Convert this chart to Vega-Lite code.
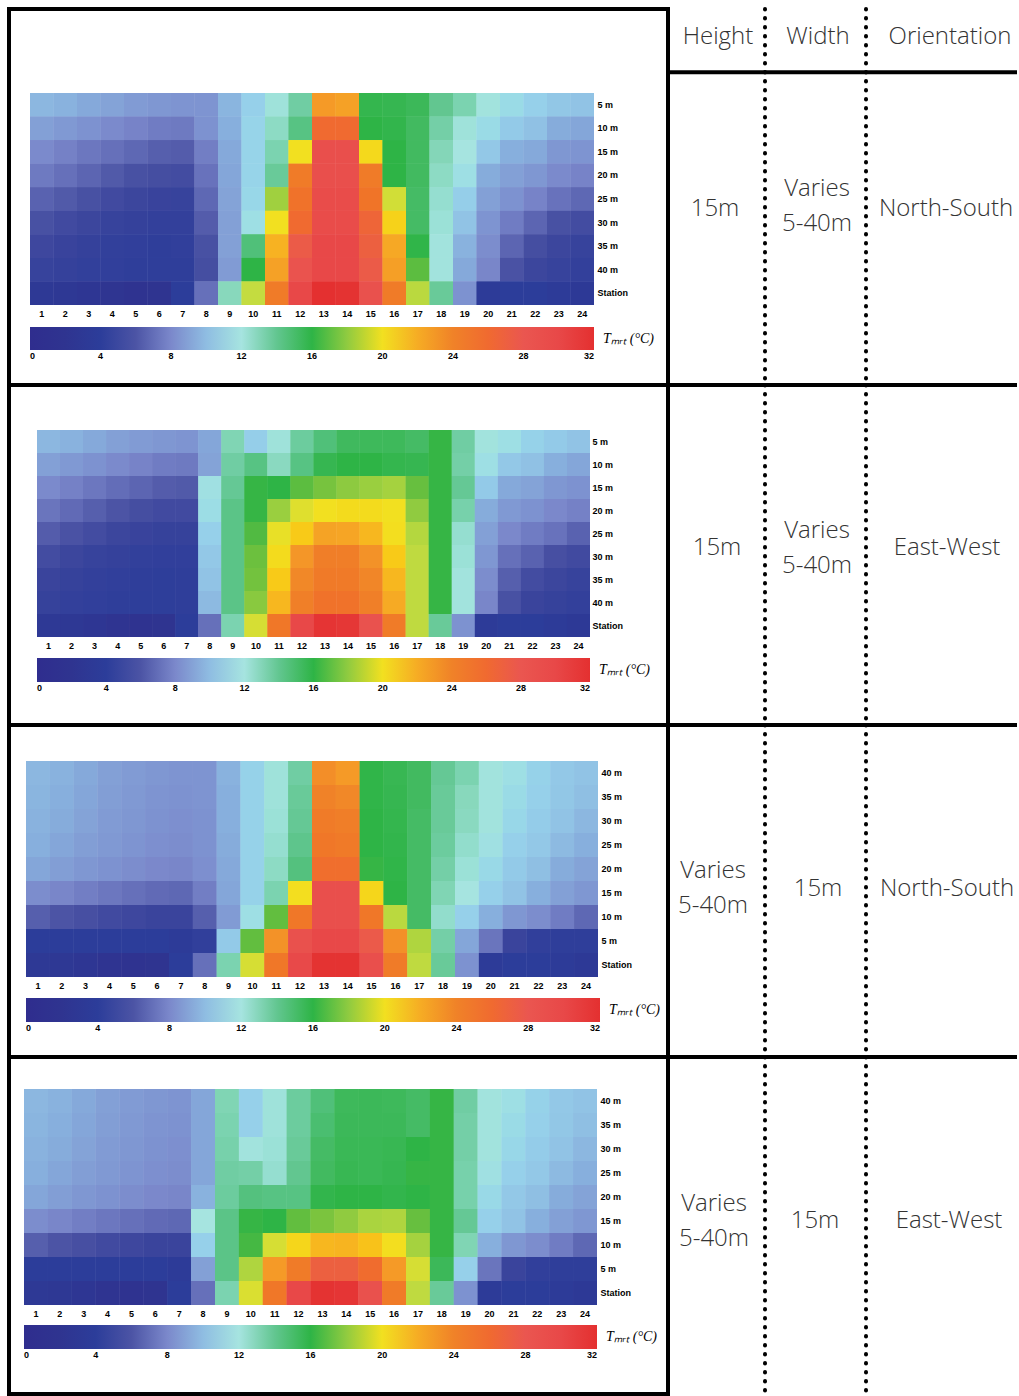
{
"$schema": "https://vega.github.io/schema/vega-lite/v6.json",
"padding": {"left": 7, "top": 7, "right": 0, "bottom": 0},
"background": "white",
"columns": 2,
"spacing": 0,
"bounds": "flush",
"config": {
 "axis": {"domain": false, "ticks": false, "tickSize": 0, "grid": false, "labelFont": "Liberation Sans", "labelFontWeight": "bold", "labelFontSize": 9, "labelColor": "#000000", "labelAngle": 0},
 "legend": {"padding": 0, "gradientStrokeWidth": 0, "labelFont": "Liberation Sans", "labelFontWeight": "bold", "labelFontSize": 9, "labelColor": "#000000", "labelOffset": 7, "labelOverlap": false, "titleFont": "Liberation Serif", "titleFontStyle": "italic", "titleFontWeight": "normal", "titleFontSize": 14, "titleColor": "#000000"}
},
"datasets": {
"tbl": [
 {"r": 1, "height": "15m", "width": "Varies\n5-40m", "orientation": "North-South"},
 {"r": 2, "height": "15m", "width": "Varies\n5-40m", "orientation": "East-West"},
 {"r": 3, "height": "Varies\n5-40m", "width": "15m", "orientation": "North-South"},
 {"r": 4, "height": "Varies\n5-40m", "width": "15m", "orientation": "East-West"}
],
"p1": [
{"h":1,"z":"5 m","t":9.8},{"h":2,"z":"5 m","t":9.6},{"h":3,"z":"5 m","t":9.3},{"h":4,"z":"5 m","t":9.1},{"h":5,"z":"5 m","t":8.8},{"h":6,"z":"5 m","t":8.6},{"h":7,"z":"5 m","t":8.5},{"h":8,"z":"5 m","t":8.5},{"h":9,"z":"5 m","t":9.7},{"h":10,"z":"5 m","t":11.0},{"h":11,"z":"5 m","t":12.2},{"h":12,"z":"5 m","t":13.6},{"h":13,"z":"5 m","t":22.8},{"h":14,"z":"5 m","t":22.5},{"h":15,"z":"5 m","t":15.7},{"h":16,"z":"5 m","t":15.6},{"h":17,"z":"5 m","t":15.3},{"h":18,"z":"5 m","t":14.0},{"h":19,"z":"5 m","t":13.3},{"h":20,"z":"5 m","t":12.1},{"h":21,"z":"5 m","t":11.5},{"h":22,"z":"5 m","t":11.0},{"h":23,"z":"5 m","t":10.5},{"h":24,"z":"5 m","t":10.3},
{"h":1,"z":"10 m","t":9.0},{"h":2,"z":"10 m","t":8.7},{"h":3,"z":"10 m","t":8.4},{"h":4,"z":"10 m","t":8.1},{"h":5,"z":"10 m","t":7.8},{"h":6,"z":"10 m","t":7.5},{"h":7,"z":"10 m","t":7.4},{"h":8,"z":"10 m","t":8.4},{"h":9,"z":"10 m","t":9.5},{"h":10,"z":"10 m","t":11.2},{"h":11,"z":"10 m","t":12.8},{"h":12,"z":"10 m","t":14.3},{"h":13,"z":"10 m","t":26.0},{"h":14,"z":"10 m","t":26.0},{"h":15,"z":"10 m","t":16.0},{"h":16,"z":"10 m","t":15.8},{"h":17,"z":"10 m","t":15.0},{"h":18,"z":"10 m","t":13.5},{"h":19,"z":"10 m","t":12.2},{"h":20,"z":"10 m","t":11.5},{"h":21,"z":"10 m","t":10.7},{"h":22,"z":"10 m","t":10.2},{"h":23,"z":"10 m","t":9.4},{"h":24,"z":"10 m","t":9.2},
{"h":1,"z":"15 m","t":8.1},{"h":2,"z":"15 m","t":7.7},{"h":3,"z":"15 m","t":7.3},{"h":4,"z":"15 m","t":7.0},{"h":5,"z":"15 m","t":6.7},{"h":6,"z":"15 m","t":6.4},{"h":7,"z":"15 m","t":6.3},{"h":8,"z":"15 m","t":7.6},{"h":9,"z":"15 m","t":9.3},{"h":10,"z":"15 m","t":11.2},{"h":11,"z":"15 m","t":13.3},{"h":12,"z":"15 m","t":20.0},{"h":13,"z":"15 m","t":29.0},{"h":14,"z":"15 m","t":29.0},{"h":15,"z":"15 m","t":20.3},{"h":16,"z":"15 m","t":16.0},{"h":17,"z":"15 m","t":15.0},{"h":18,"z":"15 m","t":13.1},{"h":19,"z":"15 m","t":12.0},{"h":20,"z":"15 m","t":10.6},{"h":21,"z":"15 m","t":9.5},{"h":22,"z":"15 m","t":9.3},{"h":23,"z":"15 m","t":8.6},{"h":24,"z":"15 m","t":8.5},
{"h":1,"z":"20 m","t":7.4},{"h":2,"z":"20 m","t":7.0},{"h":3,"z":"20 m","t":6.6},{"h":4,"z":"20 m","t":6.2},{"h":5,"z":"20 m","t":5.8},{"h":6,"z":"20 m","t":5.6},{"h":7,"z":"20 m","t":5.5},{"h":8,"z":"20 m","t":7.1},{"h":9,"z":"20 m","t":9.2},{"h":10,"z":"20 m","t":11.2},{"h":11,"z":"20 m","t":13.8},{"h":12,"z":"20 m","t":24.5},{"h":13,"z":"20 m","t":29.0},{"h":14,"z":"20 m","t":29.0},{"h":15,"z":"20 m","t":24.5},{"h":16,"z":"20 m","t":16.0},{"h":17,"z":"20 m","t":15.0},{"h":18,"z":"20 m","t":12.8},{"h":19,"z":"20 m","t":11.7},{"h":20,"z":"20 m","t":9.4},{"h":21,"z":"20 m","t":9.0},{"h":22,"z":"20 m","t":8.6},{"h":23,"z":"20 m","t":8.1},{"h":24,"z":"20 m","t":7.8},
{"h":1,"z":"25 m","t":6.5},{"h":2,"z":"25 m","t":6.2},{"h":3,"z":"25 m","t":5.8},{"h":4,"z":"25 m","t":5.4},{"h":5,"z":"25 m","t":5.1},{"h":6,"z":"25 m","t":4.9},{"h":7,"z":"25 m","t":4.8},{"h":8,"z":"25 m","t":6.7},{"h":9,"z":"25 m","t":9.1},{"h":10,"z":"25 m","t":11.3},{"h":11,"z":"25 m","t":18.3},{"h":12,"z":"25 m","t":25.2},{"h":13,"z":"25 m","t":29.5},{"h":14,"z":"25 m","t":29.5},{"h":15,"z":"25 m","t":25.0},{"h":16,"z":"25 m","t":19.3},{"h":17,"z":"25 m","t":14.9},{"h":18,"z":"25 m","t":12.5},{"h":19,"z":"25 m","t":10.9},{"h":20,"z":"25 m","t":9.0},{"h":21,"z":"25 m","t":8.4},{"h":22,"z":"25 m","t":7.8},{"h":23,"z":"25 m","t":7.1},{"h":24,"z":"25 m","t":6.7},
{"h":1,"z":"30 m","t":5.8},{"h":2,"z":"30 m","t":5.4},{"h":3,"z":"30 m","t":5.1},{"h":4,"z":"30 m","t":4.8},{"h":5,"z":"30 m","t":4.6},{"h":6,"z":"30 m","t":4.5},{"h":7,"z":"30 m","t":4.5},{"h":8,"z":"30 m","t":6.3},{"h":9,"z":"30 m","t":9.0},{"h":10,"z":"30 m","t":11.7},{"h":11,"z":"30 m","t":20.0},{"h":12,"z":"30 m","t":26.0},{"h":13,"z":"30 m","t":29.5},{"h":14,"z":"30 m","t":29.5},{"h":15,"z":"30 m","t":26.5},{"h":16,"z":"30 m","t":20.6},{"h":17,"z":"30 m","t":14.9},{"h":18,"z":"30 m","t":12.3},{"h":19,"z":"30 m","t":10.3},{"h":20,"z":"30 m","t":8.5},{"h":21,"z":"30 m","t":7.5},{"h":22,"z":"30 m","t":6.6},{"h":23,"z":"30 m","t":5.8},{"h":24,"z":"30 m","t":5.5},
{"h":1,"z":"35 m","t":5.2},{"h":2,"z":"35 m","t":4.9},{"h":3,"z":"35 m","t":4.6},{"h":4,"z":"35 m","t":4.4},{"h":5,"z":"35 m","t":4.3},{"h":6,"z":"35 m","t":4.2},{"h":7,"z":"35 m","t":4.3},{"h":8,"z":"35 m","t":5.8},{"h":9,"z":"35 m","t":9.0},{"h":10,"z":"35 m","t":14.5},{"h":11,"z":"35 m","t":21.8},{"h":12,"z":"35 m","t":27.5},{"h":13,"z":"35 m","t":30.0},{"h":14,"z":"35 m","t":30.0},{"h":15,"z":"35 m","t":27.0},{"h":16,"z":"35 m","t":22.2},{"h":17,"z":"35 m","t":15.9},{"h":18,"z":"35 m","t":12.1},{"h":19,"z":"35 m","t":9.6},{"h":20,"z":"35 m","t":8.2},{"h":21,"z":"35 m","t":6.6},{"h":22,"z":"35 m","t":5.6},{"h":23,"z":"35 m","t":5.1},{"h":24,"z":"35 m","t":4.8},
{"h":1,"z":"40 m","t":4.8},{"h":2,"z":"40 m","t":4.6},{"h":3,"z":"40 m","t":4.4},{"h":4,"z":"40 m","t":4.3},{"h":5,"z":"40 m","t":4.2},{"h":6,"z":"40 m","t":4.2},{"h":7,"z":"40 m","t":4.2},{"h":8,"z":"40 m","t":5.6},{"h":9,"z":"40 m","t":8.8},{"h":10,"z":"40 m","t":16.0},{"h":11,"z":"40 m","t":22.5},{"h":12,"z":"40 m","t":28.5},{"h":13,"z":"40 m","t":30.0},{"h":14,"z":"40 m","t":30.0},{"h":15,"z":"40 m","t":27.5},{"h":16,"z":"40 m","t":22.6},{"h":17,"z":"40 m","t":16.7},{"h":18,"z":"40 m","t":12.1},{"h":19,"z":"40 m","t":9.3},{"h":20,"z":"40 m","t":7.9},{"h":21,"z":"40 m","t":5.9},{"h":22,"z":"40 m","t":5.1},{"h":23,"z":"40 m","t":4.8},{"h":24,"z":"40 m","t":4.5},
{"h":1,"z":"Station","t":3.0},{"h":2,"z":"Station","t":2.8},{"h":3,"z":"Station","t":2.5},{"h":4,"z":"Station","t":2.2},{"h":5,"z":"Station","t":1.8},{"h":6,"z":"Station","t":2.0},{"h":7,"z":"Station","t":4.0},{"h":8,"z":"Station","t":7.0},{"h":9,"z":"Station","t":13.0},{"h":10,"z":"Station","t":19.0},{"h":11,"z":"Station","t":24.5},{"h":12,"z":"Station","t":30.0},{"h":13,"z":"Station","t":32.0},{"h":14,"z":"Station","t":31.8},{"h":15,"z":"Station","t":28.8},{"h":16,"z":"Station","t":24.5},{"h":17,"z":"Station","t":18.8},{"h":18,"z":"Station","t":13.8},{"h":19,"z":"Station","t":8.4},{"h":20,"z":"Station","t":3.6},{"h":21,"z":"Station","t":4.0},{"h":22,"z":"Station","t":3.9},{"h":23,"z":"Station","t":3.5},{"h":24,"z":"Station","t":3.2}
],
"p2": [
{"h":1,"z":"5 m","t":9.8},{"h":2,"z":"5 m","t":9.6},{"h":3,"z":"5 m","t":9.3},{"h":4,"z":"5 m","t":9.0},{"h":5,"z":"5 m","t":8.8},{"h":6,"z":"5 m","t":8.6},{"h":7,"z":"5 m","t":8.5},{"h":8,"z":"5 m","t":9.2},{"h":9,"z":"5 m","t":13.2},{"h":10,"z":"5 m","t":10.9},{"h":11,"z":"5 m","t":12.2},{"h":12,"z":"5 m","t":13.7},{"h":13,"z":"5 m","t":14.5},{"h":14,"z":"5 m","t":15.1},{"h":15,"z":"5 m","t":15.2},{"h":16,"z":"5 m","t":15.2},{"h":17,"z":"5 m","t":14.9},{"h":18,"z":"5 m","t":16.1},{"h":19,"z":"5 m","t":13.6},{"h":20,"z":"5 m","t":12.1},{"h":21,"z":"5 m","t":11.7},{"h":22,"z":"5 m","t":11.1},{"h":23,"z":"5 m","t":10.7},{"h":24,"z":"5 m","t":10.3},
{"h":1,"z":"10 m","t":9.0},{"h":2,"z":"10 m","t":8.7},{"h":3,"z":"10 m","t":8.4},{"h":4,"z":"10 m","t":8.1},{"h":5,"z":"10 m","t":7.8},{"h":6,"z":"10 m","t":7.5},{"h":7,"z":"10 m","t":7.4},{"h":8,"z":"10 m","t":9.1},{"h":9,"z":"10 m","t":13.6},{"h":10,"z":"10 m","t":14.3},{"h":11,"z":"10 m","t":12.9},{"h":12,"z":"10 m","t":14.3},{"h":13,"z":"10 m","t":15.6},{"h":14,"z":"10 m","t":16.0},{"h":15,"z":"10 m","t":16.0},{"h":16,"z":"10 m","t":15.7},{"h":17,"z":"10 m","t":15.6},{"h":18,"z":"10 m","t":16.1},{"h":19,"z":"10 m","t":13.5},{"h":20,"z":"10 m","t":11.7},{"h":21,"z":"10 m","t":10.6},{"h":22,"z":"10 m","t":10.2},{"h":23,"z":"10 m","t":9.5},{"h":24,"z":"10 m","t":9.2},
{"h":1,"z":"15 m","t":8.1},{"h":2,"z":"15 m","t":7.7},{"h":3,"z":"15 m","t":7.3},{"h":4,"z":"15 m","t":6.9},{"h":5,"z":"15 m","t":6.6},{"h":6,"z":"15 m","t":6.3},{"h":7,"z":"15 m","t":6.2},{"h":8,"z":"15 m","t":11.8},{"h":9,"z":"15 m","t":13.9},{"h":10,"z":"15 m","t":16.1},{"h":11,"z":"15 m","t":16.0},{"h":12,"z":"15 m","t":16.7},{"h":13,"z":"15 m","t":17.3},{"h":14,"z":"15 m","t":17.9},{"h":15,"z":"15 m","t":18.2},{"h":16,"z":"15 m","t":18.4},{"h":17,"z":"15 m","t":16.9},{"h":18,"z":"15 m","t":16.1},{"h":19,"z":"15 m","t":13.9},{"h":20,"z":"15 m","t":10.7},{"h":21,"z":"15 m","t":9.3},{"h":22,"z":"15 m","t":9.1},{"h":23,"z":"15 m","t":8.6},{"h":24,"z":"15 m","t":8.4},
{"h":1,"z":"20 m","t":7.2},{"h":2,"z":"20 m","t":6.8},{"h":3,"z":"20 m","t":6.4},{"h":4,"z":"20 m","t":6.0},{"h":5,"z":"20 m","t":5.6},{"h":6,"z":"20 m","t":5.4},{"h":7,"z":"20 m","t":5.4},{"h":8,"z":"20 m","t":11.6},{"h":9,"z":"20 m","t":14.2},{"h":10,"z":"20 m","t":16.1},{"h":11,"z":"20 m","t":18.2},{"h":12,"z":"20 m","t":19.6},{"h":13,"z":"20 m","t":20.0},{"h":14,"z":"20 m","t":20.2},{"h":15,"z":"20 m","t":20.2},{"h":16,"z":"20 m","t":20.0},{"h":17,"z":"20 m","t":18.0},{"h":18,"z":"20 m","t":16.1},{"h":19,"z":"20 m","t":13.4},{"h":20,"z":"20 m","t":9.4},{"h":21,"z":"20 m","t":8.7},{"h":22,"z":"20 m","t":8.4},{"h":23,"z":"20 m","t":8.0},{"h":24,"z":"20 m","t":7.7},
{"h":1,"z":"25 m","t":6.3},{"h":2,"z":"25 m","t":5.9},{"h":3,"z":"25 m","t":5.5},{"h":4,"z":"25 m","t":5.1},{"h":5,"z":"25 m","t":4.9},{"h":6,"z":"25 m","t":4.7},{"h":7,"z":"25 m","t":4.7},{"h":8,"z":"25 m","t":11.0},{"h":9,"z":"25 m","t":14.2},{"h":10,"z":"25 m","t":16.5},{"h":11,"z":"25 m","t":19.8},{"h":12,"z":"25 m","t":20.9},{"h":13,"z":"25 m","t":22.4},{"h":14,"z":"25 m","t":22.3},{"h":15,"z":"25 m","t":21.6},{"h":16,"z":"25 m","t":20.1},{"h":17,"z":"25 m","t":18.7},{"h":18,"z":"25 m","t":16.1},{"h":19,"z":"25 m","t":12.5},{"h":20,"z":"25 m","t":9.0},{"h":21,"z":"25 m","t":8.0},{"h":22,"z":"25 m","t":7.5},{"h":23,"z":"25 m","t":7.1},{"h":24,"z":"25 m","t":6.5},
{"h":1,"z":"30 m","t":5.5},{"h":2,"z":"30 m","t":5.1},{"h":3,"z":"30 m","t":4.8},{"h":4,"z":"30 m","t":4.6},{"h":5,"z":"30 m","t":4.4},{"h":6,"z":"30 m","t":4.3},{"h":7,"z":"30 m","t":4.3},{"h":8,"z":"30 m","t":10.6},{"h":9,"z":"30 m","t":14.2},{"h":10,"z":"30 m","t":17.0},{"h":11,"z":"30 m","t":20.2},{"h":12,"z":"30 m","t":23.0},{"h":13,"z":"30 m","t":24.3},{"h":14,"z":"30 m","t":24.3},{"h":15,"z":"30 m","t":23.2},{"h":16,"z":"30 m","t":20.9},{"h":17,"z":"30 m","t":18.9},{"h":18,"z":"30 m","t":16.1},{"h":19,"z":"30 m","t":12.3},{"h":20,"z":"30 m","t":8.6},{"h":21,"z":"30 m","t":7.0},{"h":22,"z":"30 m","t":6.5},{"h":23,"z":"30 m","t":5.7},{"h":24,"z":"30 m","t":5.4},
{"h":1,"z":"35 m","t":5.0},{"h":2,"z":"35 m","t":4.7},{"h":3,"z":"35 m","t":4.5},{"h":4,"z":"35 m","t":4.3},{"h":5,"z":"35 m","t":4.2},{"h":6,"z":"35 m","t":4.1},{"h":7,"z":"35 m","t":4.2},{"h":8,"z":"35 m","t":10.3},{"h":9,"z":"35 m","t":14.2},{"h":10,"z":"35 m","t":17.2},{"h":11,"z":"35 m","t":20.9},{"h":12,"z":"35 m","t":23.7},{"h":13,"z":"35 m","t":24.6},{"h":14,"z":"35 m","t":24.6},{"h":15,"z":"35 m","t":23.8},{"h":16,"z":"35 m","t":21.6},{"h":17,"z":"35 m","t":18.9},{"h":18,"z":"35 m","t":16.1},{"h":19,"z":"35 m","t":12.1},{"h":20,"z":"35 m","t":8.2},{"h":21,"z":"35 m","t":6.4},{"h":22,"z":"35 m","t":5.5},{"h":23,"z":"35 m","t":5.1},{"h":24,"z":"35 m","t":4.8},
{"h":1,"z":"40 m","t":4.7},{"h":2,"z":"40 m","t":4.5},{"h":3,"z":"40 m","t":4.3},{"h":4,"z":"40 m","t":4.2},{"h":5,"z":"40 m","t":4.1},{"h":6,"z":"40 m","t":4.1},{"h":7,"z":"40 m","t":4.2},{"h":8,"z":"40 m","t":9.9},{"h":9,"z":"40 m","t":14.2},{"h":10,"z":"40 m","t":17.8},{"h":11,"z":"40 m","t":21.6},{"h":12,"z":"40 m","t":24.2},{"h":13,"z":"40 m","t":25.2},{"h":14,"z":"40 m","t":25.2},{"h":15,"z":"40 m","t":24.2},{"h":16,"z":"40 m","t":22.1},{"h":17,"z":"40 m","t":18.9},{"h":18,"z":"40 m","t":16.1},{"h":19,"z":"40 m","t":12.1},{"h":20,"z":"40 m","t":7.9},{"h":21,"z":"40 m","t":5.8},{"h":22,"z":"40 m","t":5.0},{"h":23,"z":"40 m","t":4.7},{"h":24,"z":"40 m","t":4.5},
{"h":1,"z":"Station","t":3.0},{"h":2,"z":"Station","t":2.8},{"h":3,"z":"Station","t":2.5},{"h":4,"z":"Station","t":2.1},{"h":5,"z":"Station","t":1.7},{"h":6,"z":"Station","t":1.9},{"h":7,"z":"Station","t":4.0},{"h":8,"z":"Station","t":7.0},{"h":9,"z":"Station","t":13.3},{"h":10,"z":"Station","t":19.4},{"h":11,"z":"Station","t":24.8},{"h":12,"z":"Station","t":30.0},{"h":13,"z":"Station","t":31.7},{"h":14,"z":"Station","t":31.5},{"h":15,"z":"Station","t":28.6},{"h":16,"z":"Station","t":24.5},{"h":17,"z":"Station","t":18.9},{"h":18,"z":"Station","t":13.8},{"h":19,"z":"Station","t":8.4},{"h":20,"z":"Station","t":3.6},{"h":21,"z":"Station","t":4.0},{"h":22,"z":"Station","t":3.9},{"h":23,"z":"Station","t":3.5},{"h":24,"z":"Station","t":3.2}
],
"p3": [
{"h":1,"z":"40 m","t":9.8},{"h":2,"z":"40 m","t":9.6},{"h":3,"z":"40 m","t":9.3},{"h":4,"z":"40 m","t":9.0},{"h":5,"z":"40 m","t":8.8},{"h":6,"z":"40 m","t":8.6},{"h":7,"z":"40 m","t":8.5},{"h":8,"z":"40 m","t":8.5},{"h":9,"z":"40 m","t":9.6},{"h":10,"z":"40 m","t":11.1},{"h":11,"z":"40 m","t":12.2},{"h":12,"z":"40 m","t":13.6},{"h":13,"z":"40 m","t":23.4},{"h":14,"z":"40 m","t":22.8},{"h":15,"z":"40 m","t":15.9},{"h":16,"z":"40 m","t":15.5},{"h":17,"z":"40 m","t":15.0},{"h":18,"z":"40 m","t":13.9},{"h":19,"z":"40 m","t":13.3},{"h":20,"z":"40 m","t":12.1},{"h":21,"z":"40 m","t":11.7},{"h":22,"z":"40 m","t":11.1},{"h":23,"z":"40 m","t":10.6},{"h":24,"z":"40 m","t":10.3},
{"h":1,"z":"35 m","t":9.7},{"h":2,"z":"35 m","t":9.5},{"h":3,"z":"35 m","t":9.2},{"h":4,"z":"35 m","t":8.9},{"h":5,"z":"35 m","t":8.7},{"h":6,"z":"35 m","t":8.5},{"h":7,"z":"35 m","t":8.4},{"h":8,"z":"35 m","t":8.5},{"h":9,"z":"35 m","t":9.5},{"h":10,"z":"35 m","t":11.1},{"h":11,"z":"35 m","t":12.2},{"h":12,"z":"35 m","t":13.8},{"h":13,"z":"35 m","t":24.0},{"h":14,"z":"35 m","t":23.7},{"h":15,"z":"35 m","t":15.9},{"h":16,"z":"35 m","t":15.6},{"h":17,"z":"35 m","t":15.0},{"h":18,"z":"35 m","t":13.8},{"h":19,"z":"35 m","t":13.0},{"h":20,"z":"35 m","t":12.1},{"h":21,"z":"35 m","t":11.5},{"h":22,"z":"35 m","t":11.0},{"h":23,"z":"35 m","t":10.5},{"h":24,"z":"35 m","t":10.1},
{"h":1,"z":"30 m","t":9.6},{"h":2,"z":"30 m","t":9.4},{"h":3,"z":"30 m","t":9.1},{"h":4,"z":"30 m","t":8.8},{"h":5,"z":"30 m","t":8.6},{"h":6,"z":"30 m","t":8.4},{"h":7,"z":"30 m","t":8.3},{"h":8,"z":"30 m","t":8.4},{"h":9,"z":"30 m","t":9.5},{"h":10,"z":"30 m","t":11.1},{"h":11,"z":"30 m","t":12.3},{"h":12,"z":"30 m","t":13.9},{"h":13,"z":"30 m","t":24.5},{"h":14,"z":"30 m","t":24.3},{"h":15,"z":"30 m","t":16.0},{"h":16,"z":"30 m","t":15.7},{"h":17,"z":"30 m","t":14.9},{"h":18,"z":"30 m","t":13.8},{"h":19,"z":"30 m","t":12.9},{"h":20,"z":"30 m","t":12.1},{"h":21,"z":"30 m","t":11.3},{"h":22,"z":"30 m","t":10.8},{"h":23,"z":"30 m","t":10.3},{"h":24,"z":"30 m","t":9.8},
{"h":1,"z":"25 m","t":9.5},{"h":2,"z":"25 m","t":9.2},{"h":3,"z":"25 m","t":8.9},{"h":4,"z":"25 m","t":8.7},{"h":5,"z":"25 m","t":8.5},{"h":6,"z":"25 m","t":8.3},{"h":7,"z":"25 m","t":8.2},{"h":8,"z":"25 m","t":8.4},{"h":9,"z":"25 m","t":9.4},{"h":10,"z":"25 m","t":11.1},{"h":11,"z":"25 m","t":12.5},{"h":12,"z":"25 m","t":14.1},{"h":13,"z":"25 m","t":24.8},{"h":14,"z":"25 m","t":24.6},{"h":15,"z":"25 m","t":16.0},{"h":16,"z":"25 m","t":15.8},{"h":17,"z":"25 m","t":14.9},{"h":18,"z":"25 m","t":13.7},{"h":19,"z":"25 m","t":12.6},{"h":20,"z":"25 m","t":11.8},{"h":21,"z":"25 m","t":11.0},{"h":22,"z":"25 m","t":10.6},{"h":23,"z":"25 m","t":9.9},{"h":24,"z":"25 m","t":9.5},
{"h":1,"z":"20 m","t":9.2},{"h":2,"z":"20 m","t":8.9},{"h":3,"z":"20 m","t":8.6},{"h":4,"z":"20 m","t":8.4},{"h":5,"z":"20 m","t":8.2},{"h":6,"z":"20 m","t":8.0},{"h":7,"z":"20 m","t":7.9},{"h":8,"z":"20 m","t":8.3},{"h":9,"z":"20 m","t":9.3},{"h":10,"z":"20 m","t":11.1},{"h":11,"z":"20 m","t":12.8},{"h":12,"z":"20 m","t":14.4},{"h":13,"z":"20 m","t":25.6},{"h":14,"z":"20 m","t":25.6},{"h":15,"z":"20 m","t":16.1},{"h":16,"z":"20 m","t":15.9},{"h":17,"z":"20 m","t":14.9},{"h":18,"z":"20 m","t":13.5},{"h":19,"z":"20 m","t":12.3},{"h":20,"z":"20 m","t":11.4},{"h":21,"z":"20 m","t":10.7},{"h":22,"z":"20 m","t":10.1},{"h":23,"z":"20 m","t":9.4},{"h":24,"z":"20 m","t":9.1},
{"h":1,"z":"15 m","t":8.2},{"h":2,"z":"15 m","t":7.9},{"h":3,"z":"15 m","t":7.6},{"h":4,"z":"15 m","t":7.3},{"h":5,"z":"15 m","t":7.0},{"h":6,"z":"15 m","t":6.8},{"h":7,"z":"15 m","t":6.7},{"h":8,"z":"15 m","t":7.6},{"h":9,"z":"15 m","t":9.2},{"h":10,"z":"15 m","t":11.1},{"h":11,"z":"15 m","t":13.3},{"h":12,"z":"15 m","t":20.1},{"h":13,"z":"15 m","t":29.0},{"h":14,"z":"15 m","t":29.0},{"h":15,"z":"15 m","t":20.4},{"h":16,"z":"15 m","t":16.0},{"h":17,"z":"15 m","t":14.9},{"h":18,"z":"15 m","t":13.2},{"h":19,"z":"15 m","t":12.0},{"h":20,"z":"15 m","t":11.0},{"h":21,"z":"15 m","t":10.3},{"h":22,"z":"15 m","t":9.5},{"h":23,"z":"15 m","t":9.0},{"h":24,"z":"15 m","t":8.6},
{"h":1,"z":"10 m","t":6.4},{"h":2,"z":"10 m","t":6.0},{"h":3,"z":"10 m","t":5.7},{"h":4,"z":"10 m","t":5.4},{"h":5,"z":"10 m","t":5.2},{"h":6,"z":"10 m","t":5.0},{"h":7,"z":"10 m","t":5.0},{"h":8,"z":"10 m","t":6.4},{"h":9,"z":"10 m","t":8.8},{"h":10,"z":"10 m","t":11.7},{"h":11,"z":"10 m","t":16.8},{"h":12,"z":"10 m","t":24.8},{"h":13,"z":"10 m","t":29.0},{"h":14,"z":"10 m","t":29.0},{"h":15,"z":"10 m","t":24.8},{"h":16,"z":"10 m","t":18.8},{"h":17,"z":"10 m","t":14.9},{"h":18,"z":"10 m","t":12.6},{"h":19,"z":"10 m","t":11.0},{"h":20,"z":"10 m","t":9.5},{"h":21,"z":"10 m","t":8.6},{"h":22,"z":"10 m","t":8.2},{"h":23,"z":"10 m","t":7.5},{"h":24,"z":"10 m","t":6.7},
{"h":1,"z":"5 m","t":4.0},{"h":2,"z":"5 m","t":3.9},{"h":3,"z":"5 m","t":3.9},{"h":4,"z":"5 m","t":3.9},{"h":5,"z":"5 m","t":3.9},{"h":6,"z":"5 m","t":3.9},{"h":7,"z":"5 m","t":3.6},{"h":8,"z":"5 m","t":4.3},{"h":9,"z":"5 m","t":10.7},{"h":10,"z":"5 m","t":16.8},{"h":11,"z":"5 m","t":23.2},{"h":12,"z":"5 m","t":28.7},{"h":13,"z":"5 m","t":30.0},{"h":14,"z":"5 m","t":30.0},{"h":15,"z":"5 m","t":27.6},{"h":16,"z":"5 m","t":23.3},{"h":17,"z":"5 m","t":18.6},{"h":18,"z":"5 m","t":13.5},{"h":19,"z":"5 m","t":9.2},{"h":20,"z":"5 m","t":7.2},{"h":21,"z":"5 m","t":5.0},{"h":22,"z":"5 m","t":4.3},{"h":23,"z":"5 m","t":4.2},{"h":24,"z":"5 m","t":4.2},
{"h":1,"z":"Station","t":3.0},{"h":2,"z":"Station","t":2.8},{"h":3,"z":"Station","t":2.5},{"h":4,"z":"Station","t":2.1},{"h":5,"z":"Station","t":1.7},{"h":6,"z":"Station","t":1.9},{"h":7,"z":"Station","t":4.0},{"h":8,"z":"Station","t":7.0},{"h":9,"z":"Station","t":13.3},{"h":10,"z":"Station","t":19.4},{"h":11,"z":"Station","t":24.8},{"h":12,"z":"Station","t":29.8},{"h":13,"z":"Station","t":31.8},{"h":14,"z":"Station","t":31.8},{"h":15,"z":"Station","t":29.0},{"h":16,"z":"Station","t":24.5},{"h":17,"z":"Station","t":18.9},{"h":18,"z":"Station","t":13.8},{"h":19,"z":"Station","t":8.4},{"h":20,"z":"Station","t":3.6},{"h":21,"z":"Station","t":4.0},{"h":22,"z":"Station","t":3.9},{"h":23,"z":"Station","t":3.5},{"h":24,"z":"Station","t":3.2}
],
"p4": [
{"h":1,"z":"40 m","t":9.8},{"h":2,"z":"40 m","t":9.6},{"h":3,"z":"40 m","t":9.3},{"h":4,"z":"40 m","t":9.0},{"h":5,"z":"40 m","t":8.8},{"h":6,"z":"40 m","t":8.6},{"h":7,"z":"40 m","t":8.5},{"h":8,"z":"40 m","t":9.2},{"h":9,"z":"40 m","t":13.2},{"h":10,"z":"40 m","t":11.0},{"h":11,"z":"40 m","t":12.2},{"h":12,"z":"40 m","t":13.7},{"h":13,"z":"40 m","t":14.5},{"h":14,"z":"40 m","t":15.2},{"h":15,"z":"40 m","t":15.3},{"h":16,"z":"40 m","t":15.2},{"h":17,"z":"40 m","t":14.9},{"h":18,"z":"40 m","t":16.1},{"h":19,"z":"40 m","t":13.6},{"h":20,"z":"40 m","t":12.1},{"h":21,"z":"40 m","t":11.7},{"h":22,"z":"40 m","t":11.1},{"h":23,"z":"40 m","t":10.6},{"h":24,"z":"40 m","t":10.3},
{"h":1,"z":"35 m","t":9.7},{"h":2,"z":"35 m","t":9.5},{"h":3,"z":"35 m","t":9.2},{"h":4,"z":"35 m","t":8.9},{"h":5,"z":"35 m","t":8.7},{"h":6,"z":"35 m","t":8.5},{"h":7,"z":"35 m","t":8.4},{"h":8,"z":"35 m","t":9.2},{"h":9,"z":"35 m","t":13.3},{"h":10,"z":"35 m","t":11.0},{"h":11,"z":"35 m","t":12.2},{"h":12,"z":"35 m","t":13.7},{"h":13,"z":"35 m","t":14.7},{"h":14,"z":"35 m","t":15.3},{"h":15,"z":"35 m","t":15.3},{"h":16,"z":"35 m","t":15.3},{"h":17,"z":"35 m","t":14.9},{"h":18,"z":"35 m","t":16.1},{"h":19,"z":"35 m","t":13.5},{"h":20,"z":"35 m","t":12.1},{"h":21,"z":"35 m","t":11.5},{"h":22,"z":"35 m","t":11.0},{"h":23,"z":"35 m","t":10.5},{"h":24,"z":"35 m","t":10.1},
{"h":1,"z":"30 m","t":9.6},{"h":2,"z":"30 m","t":9.4},{"h":3,"z":"30 m","t":9.1},{"h":4,"z":"30 m","t":8.8},{"h":5,"z":"30 m","t":8.6},{"h":6,"z":"30 m","t":8.4},{"h":7,"z":"30 m","t":8.3},{"h":8,"z":"30 m","t":9.2},{"h":9,"z":"30 m","t":13.4},{"h":10,"z":"30 m","t":12.1},{"h":11,"z":"30 m","t":12.3},{"h":12,"z":"30 m","t":13.8},{"h":13,"z":"30 m","t":14.9},{"h":14,"z":"30 m","t":15.4},{"h":15,"z":"30 m","t":15.4},{"h":16,"z":"30 m","t":15.5},{"h":17,"z":"30 m","t":16.0},{"h":18,"z":"30 m","t":16.1},{"h":19,"z":"30 m","t":13.5},{"h":20,"z":"30 m","t":12.1},{"h":21,"z":"30 m","t":11.3},{"h":22,"z":"30 m","t":10.8},{"h":23,"z":"30 m","t":10.3},{"h":24,"z":"30 m","t":9.8},
{"h":1,"z":"25 m","t":9.5},{"h":2,"z":"25 m","t":9.2},{"h":3,"z":"25 m","t":8.9},{"h":4,"z":"25 m","t":8.7},{"h":5,"z":"25 m","t":8.5},{"h":6,"z":"25 m","t":8.3},{"h":7,"z":"25 m","t":8.2},{"h":8,"z":"25 m","t":9.2},{"h":9,"z":"25 m","t":13.6},{"h":10,"z":"25 m","t":13.5},{"h":11,"z":"25 m","t":12.5},{"h":12,"z":"25 m","t":14.0},{"h":13,"z":"25 m","t":15.0},{"h":14,"z":"25 m","t":15.5},{"h":15,"z":"25 m","t":15.4},{"h":16,"z":"25 m","t":15.6},{"h":17,"z":"25 m","t":16.1},{"h":18,"z":"25 m","t":16.1},{"h":19,"z":"25 m","t":13.4},{"h":20,"z":"25 m","t":11.8},{"h":21,"z":"25 m","t":11.0},{"h":22,"z":"25 m","t":10.6},{"h":23,"z":"25 m","t":9.9},{"h":24,"z":"25 m","t":9.5},
{"h":1,"z":"20 m","t":9.2},{"h":2,"z":"20 m","t":8.9},{"h":3,"z":"20 m","t":8.6},{"h":4,"z":"20 m","t":8.4},{"h":5,"z":"20 m","t":8.2},{"h":6,"z":"20 m","t":8.0},{"h":7,"z":"20 m","t":7.9},{"h":8,"z":"20 m","t":9.6},{"h":9,"z":"20 m","t":13.7},{"h":10,"z":"20 m","t":14.4},{"h":11,"z":"20 m","t":14.3},{"h":12,"z":"20 m","t":14.3},{"h":13,"z":"20 m","t":15.8},{"h":14,"z":"20 m","t":16.0},{"h":15,"z":"20 m","t":16.0},{"h":16,"z":"20 m","t":15.8},{"h":17,"z":"20 m","t":16.0},{"h":18,"z":"20 m","t":16.1},{"h":19,"z":"20 m","t":13.4},{"h":20,"z":"20 m","t":11.4},{"h":21,"z":"20 m","t":10.6},{"h":22,"z":"20 m","t":10.1},{"h":23,"z":"20 m","t":9.4},{"h":24,"z":"20 m","t":9.1},
{"h":1,"z":"15 m","t":8.2},{"h":2,"z":"15 m","t":7.9},{"h":3,"z":"15 m","t":7.6},{"h":4,"z":"15 m","t":7.3},{"h":5,"z":"15 m","t":7.0},{"h":6,"z":"15 m","t":6.8},{"h":7,"z":"15 m","t":6.7},{"h":8,"z":"15 m","t":12.0},{"h":9,"z":"15 m","t":14.2},{"h":10,"z":"15 m","t":16.1},{"h":11,"z":"15 m","t":16.0},{"h":12,"z":"15 m","t":16.8},{"h":13,"z":"15 m","t":17.4},{"h":14,"z":"15 m","t":18.0},{"h":15,"z":"15 m","t":18.5},{"h":16,"z":"15 m","t":18.6},{"h":17,"z":"15 m","t":16.9},{"h":18,"z":"15 m","t":16.1},{"h":19,"z":"15 m","t":13.9},{"h":20,"z":"15 m","t":11.0},{"h":21,"z":"15 m","t":10.3},{"h":22,"z":"15 m","t":9.5},{"h":23,"z":"15 m","t":9.0},{"h":24,"z":"15 m","t":8.6},
{"h":1,"z":"10 m","t":6.4},{"h":2,"z":"10 m","t":6.0},{"h":3,"z":"10 m","t":5.7},{"h":4,"z":"10 m","t":5.4},{"h":5,"z":"10 m","t":5.2},{"h":6,"z":"10 m","t":5.0},{"h":7,"z":"10 m","t":5.0},{"h":8,"z":"10 m","t":11.0},{"h":9,"z":"10 m","t":14.2},{"h":10,"z":"10 m","t":16.3},{"h":11,"z":"10 m","t":19.4},{"h":12,"z":"10 m","t":20.4},{"h":13,"z":"10 m","t":21.6},{"h":14,"z":"10 m","t":21.7},{"h":15,"z":"10 m","t":21.2},{"h":16,"z":"10 m","t":20.1},{"h":17,"z":"10 m","t":18.4},{"h":18,"z":"10 m","t":16.1},{"h":19,"z":"10 m","t":13.2},{"h":20,"z":"10 m","t":9.5},{"h":21,"z":"10 m","t":8.6},{"h":22,"z":"10 m","t":8.2},{"h":23,"z":"10 m","t":7.5},{"h":24,"z":"10 m","t":6.7},
{"h":1,"z":"5 m","t":4.0},{"h":2,"z":"5 m","t":3.9},{"h":3,"z":"5 m","t":3.9},{"h":4,"z":"5 m","t":3.9},{"h":5,"z":"5 m","t":3.9},{"h":6,"z":"5 m","t":3.9},{"h":7,"z":"5 m","t":3.6},{"h":8,"z":"5 m","t":9.0},{"h":9,"z":"5 m","t":14.2},{"h":10,"z":"5 m","t":18.6},{"h":11,"z":"5 m","t":22.8},{"h":12,"z":"5 m","t":24.5},{"h":13,"z":"5 m","t":27.0},{"h":14,"z":"5 m","t":27.0},{"h":15,"z":"5 m","t":25.8},{"h":16,"z":"5 m","t":22.8},{"h":17,"z":"5 m","t":19.4},{"h":18,"z":"5 m","t":15.3},{"h":19,"z":"5 m","t":11.0},{"h":20,"z":"5 m","t":7.2},{"h":21,"z":"5 m","t":5.0},{"h":22,"z":"5 m","t":4.3},{"h":23,"z":"5 m","t":4.2},{"h":24,"z":"5 m","t":4.2},
{"h":1,"z":"Station","t":3.0},{"h":2,"z":"Station","t":2.8},{"h":3,"z":"Station","t":2.5},{"h":4,"z":"Station","t":2.1},{"h":5,"z":"Station","t":1.7},{"h":6,"z":"Station","t":1.9},{"h":7,"z":"Station","t":4.0},{"h":8,"z":"Station","t":7.0},{"h":9,"z":"Station","t":13.3},{"h":10,"z":"Station","t":19.5},{"h":11,"z":"Station","t":24.8},{"h":12,"z":"Station","t":30.0},{"h":13,"z":"Station","t":31.8},{"h":14,"z":"Station","t":31.6},{"h":15,"z":"Station","t":28.8},{"h":16,"z":"Station","t":24.5},{"h":17,"z":"Station","t":18.9},{"h":18,"z":"Station","t":13.8},{"h":19,"z":"Station","t":8.4},{"h":20,"z":"Station","t":3.6},{"h":21,"z":"Station","t":4.0},{"h":22,"z":"Station","t":3.9},{"h":23,"z":"Station","t":3.5},{"h":24,"z":"Station","t":3.2}
]
},
"concat": [
{
 "width": 659, "height": 376,
 "view": {"stroke": "black", "strokeWidth": 4},
 "data": {"name": "p1"},
 "encoding": {
  "x": {"field": "h", "type": "ordinal", "scale": {"paddingInner": 0, "paddingOuter": 0, "range": [21, 585]}, "axis": {"title": null, "orient": "bottom", "offset": -80, "labelPadding": 4}},
  "y": {"field": "z", "type": "ordinal", "scale": {"domain": ["5 m","10 m","15 m","20 m","25 m","30 m","35 m","40 m","Station"], "paddingInner": 0, "paddingOuter": 0, "range": [84, 296]}, "axis": {"title": null, "orient": "right", "offset": -74, "labelPadding": 3}},
  "color": {"field": "t", "type": "quantitative",
   "scale": {"domain": [0,2,4,5,6,7,8,9,10,11,12,13,14,15,16,17,18,19,20,21,22,23,24,25,26,27,28,30,32], "range": ["#2f2d8e","#2f3490","#2c3d9a","#3a449c","#4c54a5","#6670ba","#7b88cb","#83a0d6","#8fbde2","#96d0ea","#a6e4e0","#88d8bc","#62c690","#42ba60","#2eb446","#6cc03e","#90cb40","#c4dc40","#f2e020","#f8c818","#f6ac24","#f49628","#f08228","#f07428","#f06a30","#ec6040","#ea5650","#e84848","#e43030"]},
   "legend": {"type": "gradient", "orient": "none", "legendX": 21, "legendY": 318, "direction": "horizontal", "gradientLength": 564, "gradientThickness": 23, "values": [0,4,8,12,16,20,24,28,32], "title": "Tₘᵣₜ (°C)", "titleOrient": "right", "titleAnchor": "middle", "titleBaseline": "middle", "titlePadding": 9}}
 },
 "layer": [{"mark": {"type": "rect"}}, {"mark": {"type": "rect"}}]
},
{
 "width": 349, "height": 376, "view": {"stroke": null},
 "data": {"name": "tbl"},
 "transform": [{"filter": "datum.r == 1"}],
 "layer": [
  {"mark": {"type": "rule", "color": "black", "strokeWidth": 4, "strokeCap": "round", "strokeDash": [0.5, 8.5]}, "encoding": {"x": {"datum": 0.97, "type": "quantitative", "scale": {"domain": [0, 3.49], "nice": false, "zero": false}, "axis": null}}},
  {"mark": {"type": "rule", "color": "black", "strokeWidth": 4, "strokeCap": "round", "strokeDash": [0.5, 8.5]}, "encoding": {"x": {"datum": 1.98, "type": "quantitative", "scale": {"domain": [0, 3.49], "nice": false, "zero": false}, "axis": null}}},
  {"mark": {"type": "rule", "color": "black", "strokeWidth": 4}, "encoding": {"y": {"datum": 0, "type": "quantitative", "scale": {"domain": [0, 1], "nice": false, "zero": false}, "axis": null}}},
  {"mark": {"type": "rule", "color": "black", "strokeWidth": 4}, "encoding": {"y": {"datum": 0.832, "type": "quantitative", "scale": {"domain": [0, 1], "nice": false, "zero": false}, "axis": null}}},
  {"mark": {"type": "text", "font": "Open Sans", "fontSize": 24, "fontWeight": 300, "fill": "#333333", "align": "center", "baseline": "middle"}, "encoding": {"x": {"datum": 0.50, "type": "quantitative", "scale": {"domain": [0, 3.49], "nice": false, "zero": false}, "axis": null}, "y": {"datum": 0.925, "type": "quantitative", "scale": {"domain": [0, 1], "nice": false, "zero": false}, "axis": null}, "text": {"value": "Height"}}},
  {"mark": {"type": "text", "font": "Open Sans", "fontSize": 24, "fontWeight": 300, "fill": "#333333", "align": "center", "baseline": "middle"}, "encoding": {"x": {"datum": 1.50, "type": "quantitative", "scale": {"domain": [0, 3.49], "nice": false, "zero": false}, "axis": null}, "y": {"datum": 0.925, "type": "quantitative", "scale": {"domain": [0, 1], "nice": false, "zero": false}, "axis": null}, "text": {"value": "Width"}}},
  {"mark": {"type": "text", "font": "Open Sans", "fontSize": 24, "fontWeight": 300, "fill": "#333333", "align": "center", "baseline": "middle"}, "encoding": {"x": {"datum": 2.82, "type": "quantitative", "scale": {"domain": [0, 3.49], "nice": false, "zero": false}, "axis": null}, "y": {"datum": 0.925, "type": "quantitative", "scale": {"domain": [0, 1], "nice": false, "zero": false}, "axis": null}, "text": {"value": "Orientation"}}},
  {"mark": {"type": "text", "font": "Open Sans", "fontSize": 24, "fontWeight": 300, "fill": "#333333", "align": "center", "baseline": "middle", "lineBreak": "\n", "lineHeight": 35}, "encoding": {"x": {"datum": 0.47, "type": "quantitative", "scale": {"domain": [0, 3.49], "nice": false, "zero": false}, "axis": null}, "y": {"datum": 0.468, "type": "quantitative", "scale": {"domain": [0, 1], "nice": false, "zero": false}, "axis": null}, "text": {"field": "height"}}},
  {"mark": {"type": "text", "font": "Open Sans", "fontSize": 24, "fontWeight": 300, "fill": "#333333", "align": "center", "baseline": "middle", "lineBreak": "\n", "lineHeight": 35}, "encoding": {"x": {"datum": 1.49, "type": "quantitative", "scale": {"domain": [0, 3.49], "nice": false, "zero": false}, "axis": null}, "y": {"datum": 0.520, "type": "quantitative", "scale": {"domain": [0, 1], "nice": false, "zero": false}, "axis": null}, "text": {"field": "width"}}},
  {"mark": {"type": "text", "font": "Open Sans", "fontSize": 24, "fontWeight": 300, "fill": "#333333", "align": "center", "baseline": "middle", "lineBreak": "\n", "lineHeight": 35}, "encoding": {"x": {"datum": 2.78, "type": "quantitative", "scale": {"domain": [0, 3.49], "nice": false, "zero": false}, "axis": null}, "y": {"datum": 0.468, "type": "quantitative", "scale": {"domain": [0, 1], "nice": false, "zero": false}, "axis": null}, "text": {"field": "orientation"}}}
 ]
},
{
 "width": 659, "height": 340,
 "view": {"stroke": "black", "strokeWidth": 4},
 "data": {"name": "p2"},
 "encoding": {
  "x": {"field": "h", "type": "ordinal", "scale": {"paddingInner": 0, "paddingOuter": 0, "range": [28, 581]}, "axis": {"title": null, "orient": "bottom", "offset": -88, "labelPadding": 4}},
  "y": {"field": "z", "type": "ordinal", "scale": {"domain": ["5 m","10 m","15 m","20 m","25 m","30 m","35 m","40 m","Station"], "paddingInner": 0, "paddingOuter": 0, "range": [45, 252]}, "axis": {"title": null, "orient": "right", "offset": -78, "labelPadding": 2}},
  "color": {"field": "t", "type": "quantitative",
   "scale": {"domain": [0,2,4,5,6,7,8,9,10,11,12,13,14,15,16,17,18,19,20,21,22,23,24,25,26,27,28,30,32], "range": ["#2f2d8e","#2f3490","#2c3d9a","#3a449c","#4c54a5","#6670ba","#7b88cb","#83a0d6","#8fbde2","#96d0ea","#a6e4e0","#88d8bc","#62c690","#42ba60","#2eb446","#6cc03e","#90cb40","#c4dc40","#f2e020","#f8c818","#f6ac24","#f49628","#f08228","#f07428","#f06a30","#ec6040","#ea5650","#e84848","#e43030"]},
   "legend": {"type": "gradient", "orient": "none", "legendX": 28, "legendY": 273, "direction": "horizontal", "gradientLength": 553, "gradientThickness": 24, "values": [0,4,8,12,16,20,24,28,32], "title": "Tₘᵣₜ (°C)", "titleOrient": "right", "titleAnchor": "middle", "titleBaseline": "middle", "titlePadding": 9}}
 },
 "layer": [{"mark": {"type": "rect"}}, {"mark": {"type": "rect"}}]
},
{
 "width": 349, "height": 340, "view": {"stroke": null},
 "data": {"name": "tbl"},
 "transform": [{"filter": "datum.r == 2"}],
 "layer": [
  {"mark": {"type": "rule", "color": "black", "strokeWidth": 4, "strokeCap": "round", "strokeDash": [0.5, 8.5]}, "encoding": {"x": {"datum": 0.97, "type": "quantitative", "scale": {"domain": [0, 3.49], "nice": false, "zero": false}, "axis": null}}},
  {"mark": {"type": "rule", "color": "black", "strokeWidth": 4, "strokeCap": "round", "strokeDash": [0.5, 8.5]}, "encoding": {"x": {"datum": 1.98, "type": "quantitative", "scale": {"domain": [0, 3.49], "nice": false, "zero": false}, "axis": null}}},
  {"mark": {"type": "rule", "color": "black", "strokeWidth": 4}, "encoding": {"y": {"datum": 0, "type": "quantitative", "scale": {"domain": [0, 1], "nice": false, "zero": false}, "axis": null}}},
  {"mark": {"type": "text", "font": "Open Sans", "fontSize": 24, "fontWeight": 300, "fill": "#333333", "align": "center", "baseline": "middle", "lineBreak": "\n", "lineHeight": 35}, "encoding": {"x": {"datum": 0.49, "type": "quantitative", "scale": {"domain": [0, 3.49], "nice": false, "zero": false}, "axis": null}, "y": {"datum": 0.52, "type": "quantitative", "scale": {"domain": [0, 1], "nice": false, "zero": false}, "axis": null}, "text": {"field": "height"}}},
  {"mark": {"type": "text", "font": "Open Sans", "fontSize": 24, "fontWeight": 300, "fill": "#333333", "align": "center", "baseline": "middle", "lineBreak": "\n", "lineHeight": 35}, "encoding": {"x": {"datum": 1.49, "type": "quantitative", "scale": {"domain": [0, 3.49], "nice": false, "zero": false}, "axis": null}, "y": {"datum": 0.572, "type": "quantitative", "scale": {"domain": [0, 1], "nice": false, "zero": false}, "axis": null}, "text": {"field": "width"}}},
  {"mark": {"type": "text", "font": "Open Sans", "fontSize": 24, "fontWeight": 300, "fill": "#333333", "align": "center", "baseline": "middle", "lineBreak": "\n", "lineHeight": 35}, "encoding": {"x": {"datum": 2.79, "type": "quantitative", "scale": {"domain": [0, 3.49], "nice": false, "zero": false}, "axis": null}, "y": {"datum": 0.52, "type": "quantitative", "scale": {"domain": [0, 1], "nice": false, "zero": false}, "axis": null}, "text": {"field": "orientation"}}}
 ]
},
{
 "width": 659, "height": 332,
 "view": {"stroke": "black", "strokeWidth": 4},
 "data": {"name": "p3"},
 "encoding": {
  "x": {"field": "h", "type": "ordinal", "scale": {"paddingInner": 0, "paddingOuter": 0, "range": [17, 589]}, "axis": {"title": null, "orient": "bottom", "offset": -80, "labelPadding": 4}},
  "y": {"field": "z", "type": "ordinal", "scale": {"domain": ["40 m","35 m","30 m","25 m","20 m","15 m","10 m","5 m","Station"], "paddingInner": 0, "paddingOuter": 0, "range": [36, 252]}, "axis": {"title": null, "orient": "right", "offset": -70, "labelPadding": 3}},
  "color": {"field": "t", "type": "quantitative",
   "scale": {"domain": [0,2,4,5,6,7,8,9,10,11,12,13,14,15,16,17,18,19,20,21,22,23,24,25,26,27,28,30,32], "range": ["#2f2d8e","#2f3490","#2c3d9a","#3a449c","#4c54a5","#6670ba","#7b88cb","#83a0d6","#8fbde2","#96d0ea","#a6e4e0","#88d8bc","#62c690","#42ba60","#2eb446","#6cc03e","#90cb40","#c4dc40","#f2e020","#f8c818","#f6ac24","#f49628","#f08228","#f07428","#f06a30","#ec6040","#ea5650","#e84848","#e43030"]},
   "legend": {"type": "gradient", "orient": "none", "legendX": 17, "legendY": 273, "direction": "horizontal", "gradientLength": 574, "gradientThickness": 24, "values": [0,4,8,12,16,20,24,28,32], "title": "Tₘᵣₜ (°C)", "titleOrient": "right", "titleAnchor": "middle", "titleBaseline": "middle", "titlePadding": 9}}
 },
 "layer": [{"mark": {"type": "rect"}}, {"mark": {"type": "rect"}}]
},
{
 "width": 349, "height": 332, "view": {"stroke": null},
 "data": {"name": "tbl"},
 "transform": [{"filter": "datum.r == 3"}],
 "layer": [
  {"mark": {"type": "rule", "color": "black", "strokeWidth": 4, "strokeCap": "round", "strokeDash": [0.5, 8.5]}, "encoding": {"x": {"datum": 0.97, "type": "quantitative", "scale": {"domain": [0, 3.49], "nice": false, "zero": false}, "axis": null}}},
  {"mark": {"type": "rule", "color": "black", "strokeWidth": 4, "strokeCap": "round", "strokeDash": [0.5, 8.5]}, "encoding": {"x": {"datum": 1.98, "type": "quantitative", "scale": {"domain": [0, 3.49], "nice": false, "zero": false}, "axis": null}}},
  {"mark": {"type": "rule", "color": "black", "strokeWidth": 4}, "encoding": {"y": {"datum": 0, "type": "quantitative", "scale": {"domain": [0, 1], "nice": false, "zero": false}, "axis": null}}},
  {"mark": {"type": "text", "font": "Open Sans", "fontSize": 24, "fontWeight": 300, "fill": "#333333", "align": "center", "baseline": "middle", "lineBreak": "\n", "lineHeight": 35}, "encoding": {"x": {"datum": 0.45, "type": "quantitative", "scale": {"domain": [0, 3.49], "nice": false, "zero": false}, "axis": null}, "y": {"datum": 0.559, "type": "quantitative", "scale": {"domain": [0, 1], "nice": false, "zero": false}, "axis": null}, "text": {"field": "height"}}},
  {"mark": {"type": "text", "font": "Open Sans", "fontSize": 24, "fontWeight": 300, "fill": "#333333", "align": "center", "baseline": "middle", "lineBreak": "\n", "lineHeight": 35}, "encoding": {"x": {"datum": 1.50, "type": "quantitative", "scale": {"domain": [0, 3.49], "nice": false, "zero": false}, "axis": null}, "y": {"datum": 0.506, "type": "quantitative", "scale": {"domain": [0, 1], "nice": false, "zero": false}, "axis": null}, "text": {"field": "width"}}},
  {"mark": {"type": "text", "font": "Open Sans", "fontSize": 24, "fontWeight": 300, "fill": "#333333", "align": "center", "baseline": "middle", "lineBreak": "\n", "lineHeight": 35}, "encoding": {"x": {"datum": 2.79, "type": "quantitative", "scale": {"domain": [0, 3.49], "nice": false, "zero": false}, "axis": null}, "y": {"datum": 0.506, "type": "quantitative", "scale": {"domain": [0, 1], "nice": false, "zero": false}, "axis": null}, "text": {"field": "orientation"}}}
 ]
},
{
 "width": 659, "height": 337,
 "view": {"stroke": "black", "strokeWidth": 4},
 "data": {"name": "p4"},
 "encoding": {
  "x": {"field": "h", "type": "ordinal", "scale": {"paddingInner": 0, "paddingOuter": 0, "range": [15, 588]}, "axis": {"title": null, "orient": "bottom", "offset": -89, "labelPadding": 4}},
  "y": {"field": "z", "type": "ordinal", "scale": {"domain": ["40 m","35 m","30 m","25 m","20 m","15 m","10 m","5 m","Station"], "paddingInner": 0, "paddingOuter": 0, "range": [32, 248]}, "axis": {"title": null, "orient": "right", "offset": -71, "labelPadding": 3}},
  "color": {"field": "t", "type": "quantitative",
   "scale": {"domain": [0,2,4,5,6,7,8,9,10,11,12,13,14,15,16,17,18,19,20,21,22,23,24,25,26,27,28,30,32], "range": ["#2f2d8e","#2f3490","#2c3d9a","#3a449c","#4c54a5","#6670ba","#7b88cb","#83a0d6","#8fbde2","#96d0ea","#a6e4e0","#88d8bc","#62c690","#42ba60","#2eb446","#6cc03e","#90cb40","#c4dc40","#f2e020","#f8c818","#f6ac24","#f49628","#f08228","#f07428","#f06a30","#ec6040","#ea5650","#e84848","#e43030"]},
   "legend": {"type": "gradient", "orient": "none", "legendX": 15, "legendY": 268, "direction": "horizontal", "gradientLength": 573, "gradientThickness": 24, "values": [0,4,8,12,16,20,24,28,32], "title": "Tₘᵣₜ (°C)", "titleOrient": "right", "titleAnchor": "middle", "titleBaseline": "middle", "titlePadding": 9}}
 },
 "layer": [{"mark": {"type": "rect"}}, {"mark": {"type": "rect"}}]
},
{
 "width": 349, "height": 337, "view": {"stroke": null},
 "data": {"name": "tbl"},
 "transform": [{"filter": "datum.r == 4"}],
 "layer": [
  {"mark": {"type": "rule", "color": "black", "strokeWidth": 4, "strokeCap": "round", "strokeDash": [0.5, 8.5]}, "encoding": {"x": {"datum": 0.97, "type": "quantitative", "scale": {"domain": [0, 3.49], "nice": false, "zero": false}, "axis": null}}},
  {"mark": {"type": "rule", "color": "black", "strokeWidth": 4, "strokeCap": "round", "strokeDash": [0.5, 8.5]}, "encoding": {"x": {"datum": 1.98, "type": "quantitative", "scale": {"domain": [0, 3.49], "nice": false, "zero": false}, "axis": null}}},
  {"mark": {"type": "text", "font": "Open Sans", "fontSize": 24, "fontWeight": 300, "fill": "#333333", "align": "center", "baseline": "middle", "lineBreak": "\n", "lineHeight": 35}, "encoding": {"x": {"datum": 0.46, "type": "quantitative", "scale": {"domain": [0, 3.49], "nice": false, "zero": false}, "axis": null}, "y": {"datum": 0.565, "type": "quantitative", "scale": {"domain": [0, 1], "nice": false, "zero": false}, "axis": null}, "text": {"field": "height"}}},
  {"mark": {"type": "text", "font": "Open Sans", "fontSize": 24, "fontWeight": 300, "fill": "#333333", "align": "center", "baseline": "middle", "lineBreak": "\n", "lineHeight": 35}, "encoding": {"x": {"datum": 1.47, "type": "quantitative", "scale": {"domain": [0, 3.49], "nice": false, "zero": false}, "axis": null}, "y": {"datum": 0.513, "type": "quantitative", "scale": {"domain": [0, 1], "nice": false, "zero": false}, "axis": null}, "text": {"field": "width"}}},
  {"mark": {"type": "text", "font": "Open Sans", "fontSize": 24, "fontWeight": 300, "fill": "#333333", "align": "center", "baseline": "middle", "lineBreak": "\n", "lineHeight": 35}, "encoding": {"x": {"datum": 2.81, "type": "quantitative", "scale": {"domain": [0, 3.49], "nice": false, "zero": false}, "axis": null}, "y": {"datum": 0.513, "type": "quantitative", "scale": {"domain": [0, 1], "nice": false, "zero": false}, "axis": null}, "text": {"field": "orientation"}}}
 ]
}
],
"resolve": {"scale": {"x": "independent", "y": "independent", "color": "independent"}, "legend": {"color": "independent"}, "axis": {"x": "independent", "y": "independent"}}
}
